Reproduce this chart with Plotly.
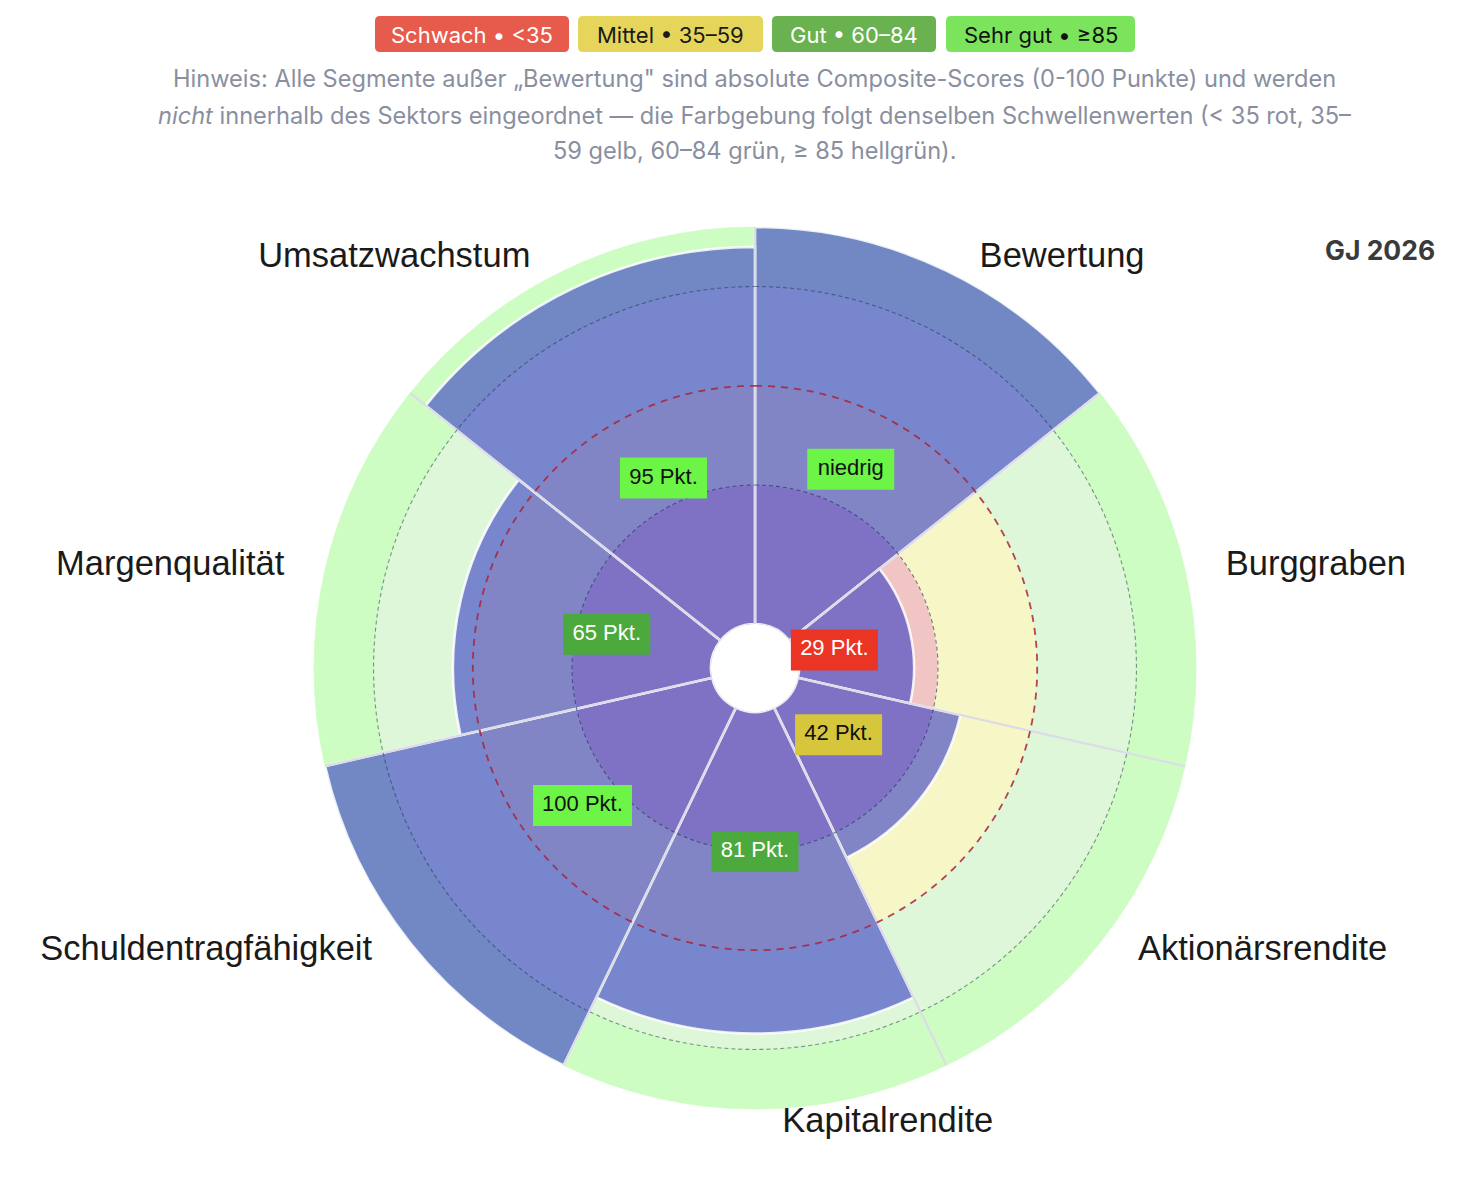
import numpy as np
import plotly.graph_objects as go

# ---------------- data ----------------
CATEGORIES = ["Bewertung", "Burggraben", "Aktionärsrendite", "Kapitalrendite",
              "Schuldentragfähigkeit", "Margenqualität", "Umsatzwachstum"]
SCORES = [100, 29, 42, 81, 100, 65, 95]
SCORE_LABELS = ["niedrig", "29 Pkt.", "42 Pkt.", "81 Pkt.", "100 Pkt.", "65 Pkt.", "95 Pkt."]
ZONE_EDGES = [0, 35, 60, 85, 100]
THRESHOLDS = [35, 60, 85]
LEGEND_TEXT = ["Schwach • <35", "Mittel • 35–59", "Gut • 60–84", "Sehr gut • ≥85"]
NOTE_LINES = [
    "Hinweis: Alle Segmente außer „Bewertung\" sind absolute Composite-Scores (0-100 Punkte) und werden",
    "<i>nicht</i> innerhalb des Sektors eingeordnet — die Farbgebung folgt denselben Schwellenwerten (< 35 rot, 35–",
    "59 gelb, 60–84 grün, ≥ 85 hellgrün).",
]
YEAR_LABEL = "GJ 2026"

# ---------------- styles ----------------
W, H = 1479, 1179
CX, CY = 755, 668
HOLE_PX, OUTER_PX = 44, 441          # pixel radius of value 0 and value 100
R_MAX = 104                          # radial range max (room for labels)
ZONE_FILLS = ["#f0c5c3", "#f6f6c7", "#def7d9", "#cdfdc2"]
TIER_COLORS = ["#ea3424", "#d6c63c", "#4ba93d", "#6cf446"]
TIER_TEXT = ["#ffffff", "#111111", "#ffffff", "#111111"]
PILL_COLORS = ["#e65b4b", "#e5d55b", "#69b24f", "#7ce35c"]
PILL_TEXT = ["#ffffff", "#1a1a1a", "#ffffff", "#111111"]
PILL_BOXES = [(375, 569), (578, 763), (772, 936), (946, 1135)]
PILL_Y = (16, 52)
CIRCLE_STYLES = [
    dict(color="rgba(35,35,95,0.6)", width=1.1, dash="4px,3px"),
    dict(color="rgba(170,35,55,0.85)", width=1.8, dash="7px,6px"),
    dict(color="rgba(35,35,80,0.5)", width=1.1, dash="4px,3px"),
]
LABEL_R = 103.5
UI_FONT = "Inter, Roboto, sans-serif"
CHART_FONT = "Liberation Sans, Arial, sans-serif"

n = len(CATEGORIES)
step = 360.0 / n
centers = [(i + 0.5) * step for i in range(n)]
bounds = [i * step for i in range(n)]

# polar domain so that value 0 -> HOLE_PX and value 100 -> OUTER_PX
span = (OUTER_PX - HOLE_PX) * R_MAX / 100.0
RAD = HOLE_PX + span
HOLE = HOLE_PX / RAD


def tier(v):
    return sum(v >= t for t in THRESHOLDS)


fig = go.Figure()

# zone bands
for k in range(len(ZONE_EDGES) - 1):
    fig.add_trace(go.Barpolar(
        r=[ZONE_EDGES[k + 1] - ZONE_EDGES[k]] * n,
        base=[ZONE_EDGES[k]] * n,
        theta=centers, width=[step] * n,
        marker=dict(color=ZONE_FILLS[k], line=dict(color=ZONE_FILLS[k], width=0.8)),
        hoverinfo="skip", showlegend=False))

# sector separators
for b in bounds:
    fig.add_trace(go.Scatterpolar(
        r=[0, 100], theta=[b, b], mode="lines",
        line=dict(color="#dcdce8", width=2.2),
        hoverinfo="skip", showlegend=False))

# score bars
fig.add_trace(go.Barpolar(
    r=SCORES, theta=centers, width=[step] * n,
    marker=dict(color="rgba(52,58,196,0.6)",
                line=dict(color="rgba(255,255,255,0.85)", width=2.6)),
    hoverinfo="skip", showlegend=False))

# threshold circles
ring_theta = np.linspace(0, 360, 721)
for thr, st in zip(THRESHOLDS, CIRCLE_STYLES):
    fig.add_trace(go.Scatterpolar(
        r=[thr] * len(ring_theta), theta=ring_theta, mode="lines",
        line=st, hoverinfo="skip", showlegend=False))

# value boxes
box_w = [12 * len(s) + 3 for s in SCORE_LABELS]
cols = [TIER_COLORS[tier(v)] for v in SCORES]
tcols = [TIER_TEXT[tier(v)] for v in SCORES]
fig.add_trace(go.Scatterpolar(
    r=[0.494 * v - 4.9 for v in SCORES], theta=centers,
    mode="markers+text",
    marker=dict(symbol="line-ew", size=[w / 1.4 for w in box_w], color=cols,
                opacity=1, line=dict(color=cols, width=41)),
    text=SCORE_LABELS, textposition="middle center",
    textfont=dict(size=22, color=tcols, family=CHART_FONT),
    hoverinfo="skip", showlegend=False, cliponaxis=False))

# sector labels
label_pos = ["middle right" if c <= 180 else "middle left" for c in centers]
fig.add_trace(go.Scatterpolar(
    r=[LABEL_R] * n, theta=centers, mode="markers+text",
    marker=dict(size=42, color="rgba(0,0,0,0)", opacity=1),
    text=CATEGORIES, textposition=label_pos,
    textfont=dict(size=34.5, color="#1a1a1a", family=CHART_FONT),
    hoverinfo="skip", showlegend=False, cliponaxis=False))


def X(px):
    return px / W


def Y(py):
    return 1 - py / H


def rrect(x0, y0, x1, y1, r):
    pts = [
        ("M", [(x0 + r, y0)]), ("L", [(x1 - r, y0)]), ("Q", [(x1, y0), (x1, y0 + r)]),
        ("L", [(x1, y1 - r)]), ("Q", [(x1, y1), (x1 - r, y1)]), ("L", [(x0 + r, y1)]),
        ("Q", [(x0, y1), (x0, y1 - r)]), ("L", [(x0, y0 + r)]), ("Q", [(x0, y0), (x0 + r, y0)]),
    ]
    s = ""
    for cmd, ps in pts:
        s += cmd + " " + " ".join(f"{X(a):.5f},{Y(b):.5f}" for a, b in ps) + " "
    return s + "Z"


shapes = []
annotations = []
for txt, (x0, x1), bg, fg in zip(LEGEND_TEXT, PILL_BOXES, PILL_COLORS, PILL_TEXT):
    shapes.append(dict(type="path", xref="paper", yref="paper",
                       path=rrect(x0, PILL_Y[0], x1, PILL_Y[1], 5),
                       fillcolor=bg, line=dict(width=0), layer="below"))
    annotations.append(dict(text=txt, x=X((x0 + x1) / 2), y=Y(sum(PILL_Y) / 2 + 1),
                            xref="paper", yref="paper", showarrow=False,
                            xanchor="center", yanchor="middle",
                            font=dict(size=22, color=fg, family=UI_FONT)))

for i, line in enumerate(NOTE_LINES):
    annotations.append(dict(text=line, x=X(CX), y=Y(79 + 36 * i),
                            xref="paper", yref="paper", showarrow=False,
                            xanchor="center", yanchor="middle",
                            font=dict(size=23.6, color="#8a8fa0", family=UI_FONT)))

annotations.append(dict(text=f"<b>{YEAR_LABEL}</b>", x=X(1437), y=Y(250),
                        xref="paper", yref="paper", showarrow=False,
                        xanchor="right", yanchor="middle",
                        font=dict(size=26.5, color="#3a3a3a", family=UI_FONT)))

fig.update_layout(
    width=W, height=H,
    margin=dict(l=0, r=0, t=0, b=0),
    paper_bgcolor="white", plot_bgcolor="white",
    showlegend=False,
    shapes=shapes, annotations=annotations,
    polar=dict(
        domain=dict(x=[X(CX - RAD), X(CX + RAD)], y=[Y(CY + RAD), Y(CY - RAD)]),
        hole=HOLE,
        bgcolor="rgba(0,0,0,0)",
        barmode="overlay",
        radialaxis=dict(range=[0, R_MAX], visible=False),
        angularaxis=dict(rotation=90, direction="clockwise", thetaunit="degrees",
                         visible=False, showgrid=False),
    ),
)

fig.write_html("out.html")
